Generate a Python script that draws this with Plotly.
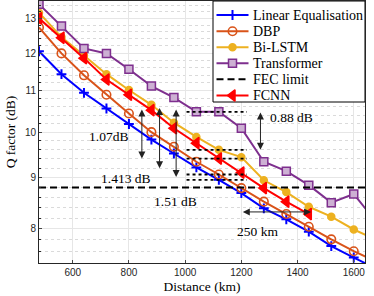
import math
import plotly.graph_objects as go

distance_km = [480, 560, 640, 720, 800, 880, 960, 1040, 1120, 1200, 1280, 1360, 1440, 1520, 1600, 1680]
linear_eq = [12.05, 11.43, 10.95, 10.56, 10.19, 9.83, 9.52, 9.22, 8.96, 8.69, 8.39, 8.18, 7.95, 7.69, 7.49, 7.30]
dbp = [12.73, 11.99, 11.40, 10.90, 10.44, 10.00, 9.67, 9.34, 9.07, 8.79, 8.52, 8.28, 8.04, 7.81, 7.60, 7.42]
bi_lstm = [13.17, 12.45, 11.93, 11.43, 11.02, 10.65, 10.22, 9.89, 9.60, 9.44, 8.95, 8.71, 8.42, 8.23, 7.99, 7.80]
transformer = [13.43, 12.77, 12.13, 11.99, 11.56, 11.12, 10.83, 10.48, 10.48, 10.09, 9.34, 9.14, 8.85, 8.50, 8.67, 8.13]
fcnn = [13.00, 12.43, 11.86, 11.29, 10.90, 10.52, 10.09, 9.75, 9.41, 9.11, 8.79, 8.52, 8.28, None, None, None]
fec_limit = 8.8
fec_x = [480, 1640]

series_names = ["Linear Equalisation", "DBP", "Bi-LSTM", "Transformer", "FEC limit", "FCNN"]

x_ticks = [600, 800, 1000, 1200, 1400, 1600]
y_ticks = [8, 9, 10, 11, 12, 13]
y_minor = [round(7.4 + 0.2 * i, 1) for i in range(31)]
y_minor = [v for v in y_minor if abs(v - round(v)) > 1e-6]

# comparison levels taken at 1120 km
ref_km = 1120
dotted_x = [1005, 1220]

# arrow annotations (km, Q dB)
vert_arrows = [  # x, y_top, y_bottom
    (846, 10.57, 9.41),
    (909, 10.61, 9.20),
    (968, 10.57, 9.02),
    (1268, 10.50, 9.60),
]
horiz_arrow = (1200, 1448, 8.32)
labels = [
    ("1.07dB", 728, 9.89),
    ("1.413 dB", 790, 8.99),
    ("1.51 dB", 967, 8.53),
    ("0.88 dB", 1379, 10.35),
    ("250 km", 1259, 7.95),
]

SERIF = "Liberation Serif"
SANS = "Liberation Sans"

styles = {
    "Linear Equalisation": dict(color="#0000FF", symbol="cross-thin", size=7, fill="#0000FF", lw=2, dash="solid"),
    "DBP": dict(color="#D95319", symbol="circle-open", size=8.5, fill="#D95319", lw=1.6, dash="solid"),
    "Bi-LSTM": dict(color="#EDB120", symbol="circle", size=7, fill="#EDB120", lw=1.5, dash="solid"),
    "Transformer": dict(color="#7E2F8E", symbol="square", size=8, fill="#CDB0D3", lw=1.5, dash="solid"),
    "FEC limit": dict(color="black", symbol=None, size=0, fill=None, lw=0, dash="7px,4px"),
    "FCNN": dict(color="#FF0000", symbol="triangle-left", size=10, fill="#FF0000", lw=1.5, dash="solid"),
}
series_values = {
    "Linear Equalisation": linear_eq, "DBP": dbp, "Bi-LSTM": bi_lstm,
    "Transformer": transformer, "FCNN": fcnn,
}

fig = go.Figure()

for name in series_names:
    st = styles[name]
    if name == "FEC limit":
        fig.add_trace(go.Scatter(x=fec_x, y=[fec_limit, fec_limit], name=name, mode="lines",
                                 line=dict(color="black", width=2, dash=st["dash"])))
        continue
    fig.add_trace(go.Scatter(
        x=distance_km, y=series_values[name], name=name, mode="lines+markers",
        line=dict(color=st["color"], width=2),
        marker=dict(symbol=st["symbol"], size=st["size"], color=st["fill"],
                    line=dict(color=st["color"], width=st["lw"])),
    ))

idx = distance_km.index(ref_km)
for series in (transformer, bi_lstm, fcnn, dbp, linear_eq):
    lvl = series[idx]
    fig.add_trace(go.Scatter(x=dotted_x, y=[lvl, lvl], mode="lines", hoverinfo="skip",
                             line=dict(color="black", width=1.8, dash="dot")))

# ---- hand-built legend on a pixel overlay axis (plot area spans x 39..365, y 1..263) ----
leg_box = dict(x0=213, x1=365, y0=1, y1=102)
leg_rows = [15, 31.3, 47.3, 63.3, 79.3, 95.5]
leg_line = (216.5, 248.5)
leg_text_x = 250.5
fig.add_trace(go.Scatter(
    x=[leg_box["x0"], leg_box["x1"], leg_box["x1"], leg_box["x0"], leg_box["x0"]],
    y=[leg_box["y0"], leg_box["y0"], leg_box["y1"], leg_box["y1"], leg_box["y0"]],
    xaxis="x2", yaxis="y2", mode="lines", fill="toself", fillcolor="white",
    line=dict(color="black", width=1), hoverinfo="skip"))
for name, ry in zip(series_names, leg_rows):
    st = styles[name]
    fig.add_trace(go.Scatter(x=list(leg_line), y=[ry, ry], xaxis="x2", yaxis="y2", mode="lines",
                             line=dict(color=st["color"], width=2, dash=st["dash"]), hoverinfo="skip"))
    if st["symbol"]:
        fig.add_trace(go.Scatter(x=[sum(leg_line) / 2], y=[ry], xaxis="x2", yaxis="y2", mode="markers",
                                 marker=dict(symbol=st["symbol"], size=st["size"], color=st["fill"],
                                             line=dict(color=st["color"], width=st["lw"])),
                                 hoverinfo="skip"))
    fig.add_annotation(x=leg_text_x, y=ry, xref="x2", yref="y2", text=name, showarrow=False,
                       xanchor="left", yanchor="middle",
                       font=dict(family=SERIF, size=14, color="black"))

for xk, yt, yb in vert_arrows:
    fig.add_annotation(x=xk, y=math.log10(yb), ax=xk, ay=math.log10(yt), xref="x", yref="y",
                       axref="x", ayref="y", text="", showarrow=True, arrowhead=2,
                       arrowside="end+start", arrowsize=1.4, arrowwidth=1, arrowcolor="#222")
x0, x1, yh = horiz_arrow
fig.add_annotation(x=x1, y=math.log10(yh), ax=x0, ay=math.log10(yh), xref="x", yref="y",
                   axref="x", ayref="y", text="", showarrow=True, arrowhead=2,
                   arrowside="end+start", arrowsize=1.4, arrowwidth=1, arrowcolor="#222")
for t, xk, yv in labels:
    fig.add_annotation(x=xk, y=math.log10(yv), xref="x", yref="y", text=t, showarrow=False,
                       font=dict(family=SERIF, size=13.5, color="black"))

fig.update_layout(
    width=374, height=296,
    margin=dict(l=39, r=9, t=1, b=33),
    paper_bgcolor="white", plot_bgcolor="white",
    showlegend=False,
    xaxis2=dict(overlaying="x", anchor="y2", visible=False, range=[39, 365]),
    yaxis2=dict(overlaying="y", anchor="x2", visible=False, range=[263, 1]),
)
fig.update_layout(xaxis=dict(
    range=[480, 1640], tickvals=x_ticks, ticks="inside", ticklen=3,
    showline=True, linecolor="#262626", mirror=True, linewidth=1,
    showgrid=True, gridcolor="#E6E6E6", gridwidth=1, zeroline=False,
    tickfont=dict(family=SANS, size=10, color="#262626"),
    title=dict(text="Distance (km)", font=dict(family=SERIF, size=13.5, color="black"), standoff=4)))
fig.update_layout(yaxis=dict(
    type="log", range=[math.log10(7.396), math.log10(13.53)], tickvals=y_ticks,
    ticktext=[str(v) for v in y_ticks], ticks="inside", ticklen=3,
    showline=True, linecolor="#262626", mirror=True, linewidth=1,
    showgrid=True, gridcolor="#E6E6E6", gridwidth=1, zeroline=False,
    tickfont=dict(family=SANS, size=10, color="#262626"),
    minor=dict(tickvals=y_minor, showgrid=True, gridcolor="#DADADA",
               griddash="dot", ticks="inside", ticklen=2, tickcolor="#262626"),
    title=dict(text="Q factor (dB)", font=dict(family=SERIF, size=13.5, color="black"), standoff=6)))

fig.write_html("out.html", config={"displayModeBar": False},
               post_script="document.body.style.margin='0';")
